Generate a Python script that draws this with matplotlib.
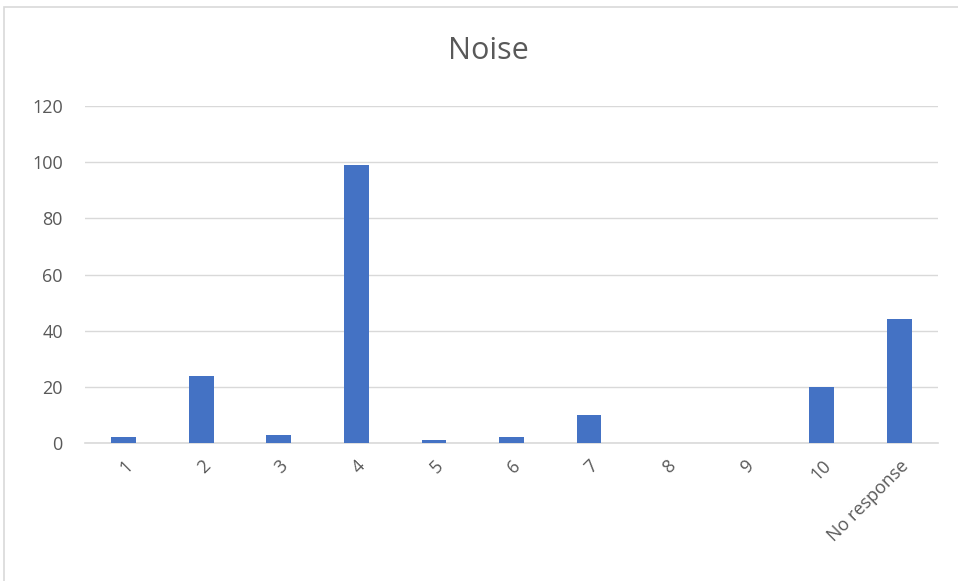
import numpy as np
import matplotlib.pyplot as plt
from matplotlib.patches import Rectangle
from matplotlib.transforms import ScaledTranslation

categories = ['1', '2', '3', '4', '5', '6', '7', '8', '9', '10', 'No response']
counts = [2, 24, 3, 99, 1, 2, 10, 0, 0, 20, 44]
yticks = [0, 20, 40, 60, 80, 100, 120]

plt.rcParams['font.family'] = ['Open Sans', 'DejaVu Sans']

W, H = 958, 581
fig = plt.figure(figsize=(W / 100, H / 100), dpi=100)
fig.patches.append(Rectangle((4 / W, -0.1), 1.2, 1 - 7 / H + 0.1, transform=fig.transFigure,
                             fill=False, edgecolor='#d9d9d9', lw=1.2, zorder=0))

ax = fig.add_axes([85 / W, 1 - 443 / H, (938 - 85) / W, (443 - 106) / H])
x = np.arange(len(categories))
ax.bar(x, counts, width=0.32, color='#4472c4', zorder=3)

ax.set_xlim(-0.5, len(categories) - 0.5)
ax.set_ylim(0, 120)
ax.set_yticks(yticks)
ax.set_yticklabels([str(t) for t in yticks], fontsize=13, color='#595959')
ax.grid(axis='y', color='#d9d9d9', lw=1, zorder=0)
ax.set_axisbelow(True)

ax.set_xticks(x)
ax.set_xticklabels(categories, fontsize=13, color='#595959', rotation=45,
                   ha='right', va='top', rotation_mode='anchor')
# nudge x labels slightly left, like the reference
shift = ScaledTranslation(-4 / 100, 0, fig.dpi_scale_trans)
for lbl in ax.get_xticklabels():
    lbl.set_transform(lbl.get_transform() + shift)
ax.tick_params(axis='both', length=0)
ax.tick_params(axis='x', pad=10)
ax.tick_params(axis='y', pad=16)

for side in ['top', 'right', 'left']:
    ax.spines[side].set_visible(False)
ax.spines['bottom'].set_color('#d9d9d9')
ax.spines['bottom'].set_linewidth(1.2)

fig.text(0.5 + 9 / W, 1 - 51 / H, 'Noise', ha='center', va='center', fontsize=22, color='#595959')

plt.savefig('out.png', dpi=100)
